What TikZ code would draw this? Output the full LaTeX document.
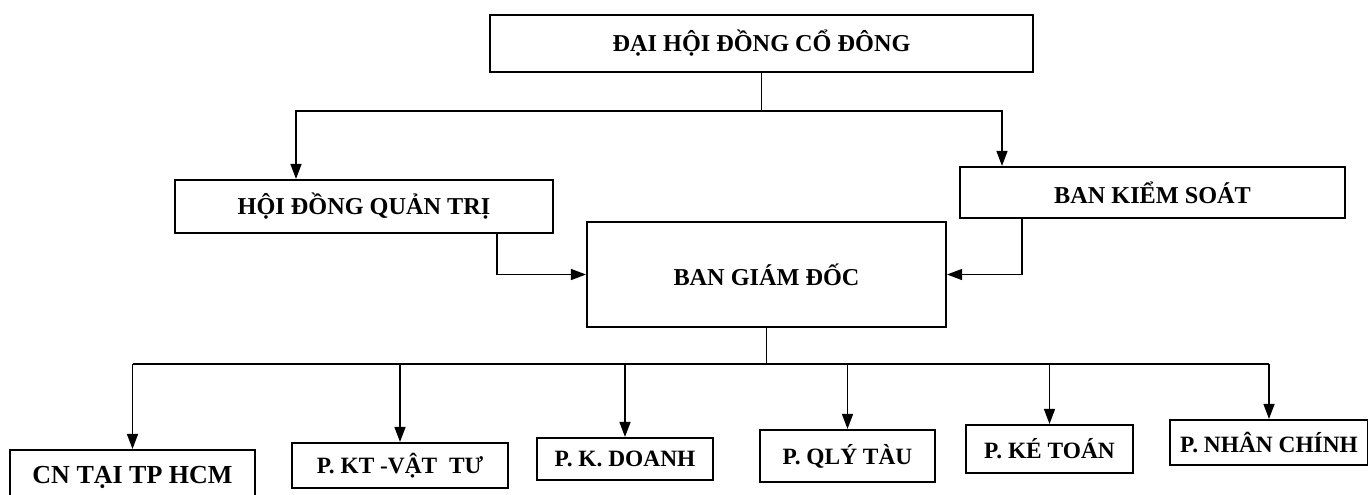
\documentclass[tikz,border=0pt]{standalone}
\usepackage{fontspec}
\setmainfont{Liberation Serif}
\usetikzlibrary{arrows.meta}

\begin{document}
\begin{tikzpicture}[
  khoi/.style={rectangle, draw=black, line width=1.2pt, inner sep=0pt, text centered, font=\bfseries\fontsize{13.8}{16}\selectfont},
  khoinho/.style={khoi, font=\bfseries\fontsize{13.3}{15}\selectfont},
  lien/.style={line width=0.8pt},
  mui/.style={lien, -{Triangle[length=3mm,width=2.2mm]}}
]
\useasboundingbox (0,0) rectangle (27.36,-9.9);

% Hàng trên
\node (dhcd) [khoi, minimum width=10.86cm, minimum height=1.14cm] at (15.23,-0.87) {ĐẠI HỘI ĐỒNG CỔ ĐÔNG};
\node (hdqt) [khoi, minimum width=7.56cm, minimum height=1.06cm] at (7.28,-4.13) {HỘI ĐỒNG QUẢN TRỊ};
\node (bks) [khoi, minimum width=7.7cm, minimum height=1.02cm] at (23.05,-3.85) {BAN KIỂM SOÁT};
\node (bgd) [khoi, minimum width=7.18cm, minimum height=2.1cm] at (15.33,-5.49) {BAN GIÁM ĐỐC};

% Các phòng ban
\node (cn) [khoinho, minimum width=4.9cm, minimum height=1.1cm, font=\bfseries\fontsize{14.8}{16}\selectfont] at (2.65,-9.55) {CN TẠI TP HCM};
\node (ktvt) [khoinho, minimum width=4.32cm, minimum height=0.9cm] at (8.0,-9.31) {P. KT -VẬT \ TƯ};
\node (kd) [khoinho, minimum width=3.52cm, minimum height=0.84cm] at (12.5,-9.18) {P. K. DOANH};
\node (qlt) [khoinho, minimum width=3.5cm, minimum height=1.04cm] at (16.95,-9.12) {P. QLÝ TÀU};
\node (kto) [khoinho, minimum width=3.34cm, minimum height=0.96cm] at (20.99,-8.98) {P. KÉ TOÁN};
\node (nc) [khoinho, minimum width=3.96cm, minimum height=0.9cm] at (25.38,-8.85) {P. NHÂN CHÍNH};

% Liên kết
\draw[lien] (dhcd.south) -- ++(0,-0.76) coordinate (nga);
\draw[mui] (nga) -| ([xshift=-1.36cm]hdqt.north);
\draw[mui] (nga) -| ([xshift=-3.01cm]bks.north);
\draw[mui] ([xshift=2.66cm]hdqt.south) |- (bgd.west);
\draw[mui] ([xshift=-2.61cm]bks.south) |- (bgd.east);

\draw[lien] (bgd.south) -- ++(0,-0.72) coordinate (re);
\draw[lien] (cn.north |- re) -- (nc.north |- re);
\foreach \n in {cn,ktvt,kd,qlt,kto,nc}
  \draw[mui] (\n.north |- re) -- (\n.north);

\end{tikzpicture}
\end{document}
